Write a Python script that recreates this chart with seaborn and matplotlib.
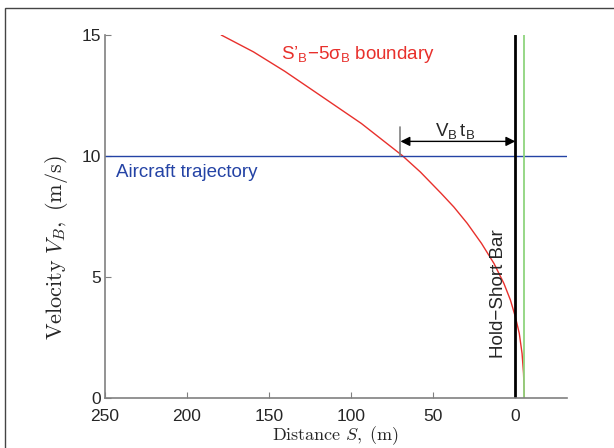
import numpy as np
import pandas as pd
import seaborn as sns
import matplotlib.pyplot as plt
from matplotlib.patches import Rectangle

# Boundary curve S'_B - 5 sigma_B
distance = [179.2, 159.5, 140.5, 121.0, 93.8, 69.0, 57.8, 45.2, 37.5, 29.3, 20.6,
            13.0, 7.0, 3.0, 0.0, -2.4, -4.1, -5.0, -5.5]
velocity = [15.0, 14.3, 13.5, 12.6, 11.34, 10.02, 9.33, 8.45, 7.89, 7.21, 6.38,
            5.55, 4.73, 4.04, 3.35, 2.66, 1.83, 1.01, 0.0]

trajectory_speed = 10.0      # aircraft trajectory (m/s)
hold_short_pos = 0.0         # hold-short bar (m)
green_pos = -5.0             # second bar (m)
bar_top = 15.0
gap_start = 70.0             # where trajectory meets boundary
x_ticks = [250, 200, 150, 100, 50, 0]
y_ticks = [0, 5, 10, 15]

sns.set_style("ticks")
plt.rcParams["font.family"] = ["Liberation Sans", "DejaVu Sans"]
plt.rcParams["mathtext.fontset"] = "cm"

df = pd.DataFrame({"S": distance, "V": velocity})

fig = plt.figure(figsize=(6.14, 4.48), dpi=100)
ax = fig.add_axes([0.171, 0.1123, 0.7525, 0.8096])

sns.lineplot(data=df, x="S", y="V", color="#e8302c", lw=1.0, ax=ax,
             estimator=None, sort=False)
ax.axhline(trajectory_speed, color="#2443a5", lw=1.0)
ax.plot([hold_short_pos, hold_short_pos], [0, bar_top], color="black", lw=2.0)
ax.plot([green_pos, green_pos], [0, bar_top], color="#8fd47e", lw=1.3)

# V_B t_B dimension
ax.plot([gap_start, gap_start], [trajectory_speed, 11.2], color="#808080", lw=1.2)
ax.annotate("", xy=(hold_short_pos, 10.6), xytext=(gap_start, 10.6),
            arrowprops=dict(arrowstyle="<|-|>", color="black", lw=1.0,
                            shrinkA=0, shrinkB=0, mutation_scale=14))
ax.text(36.5, 11.05, r"$\mathregular{V_B\,t_B}$", fontsize=13.5, ha="center", va="center")

ax.text(143, 14.2, "S\u2019$\\mathregular{_B}$\u22125\u03c3$\\mathregular{_B}$ boundary",
        color="#e8302c", fontsize=13.5, ha="left", va="center")
ax.text(243, 9.33, "Aircraft trajectory", color="#2443a5", fontsize=13.5,
        ha="left", va="center")
ax.text(10.3, 4.3, "Hold\u2212Short Bar", rotation=90, fontsize=13.5,
        ha="center", va="center")

ax.set_xlim(250, -31.5)
ax.set_ylim(0, 15)
ax.set_xticks(x_ticks)
ax.set_yticks(y_ticks)
ax.tick_params(direction="in", length=4, color="#808080", labelsize=12.5)
ax.tick_params(axis="x", pad=8)
ax.tick_params(axis="y", pad=3)
for side in ["top", "right"]:
    ax.spines[side].set_visible(False)
for side in ["left", "bottom"]:
    ax.spines[side].set_color("#808080")
    ax.spines[side].set_linewidth(1.2)

ax.set_xlabel(r"$\mathrm{Distance}\ S\mathrm{,\ (m)}$", fontsize=13, labelpad=0)
ax.set_ylabel(r"$\mathrm{Velocity}\ V_B\mathrm{,\ (m/s)}$", fontsize=16)
ax.yaxis.set_label_coords(-0.076, 0.413)

fig.patches.append(Rectangle((5 / 614, -0.1), 1.2, (440 / 448) + 0.1, transform=fig.transFigure,
                             fill=False, edgecolor="#444444", lw=1.0, clip_on=False))

fig.savefig("out.png", dpi=100)
